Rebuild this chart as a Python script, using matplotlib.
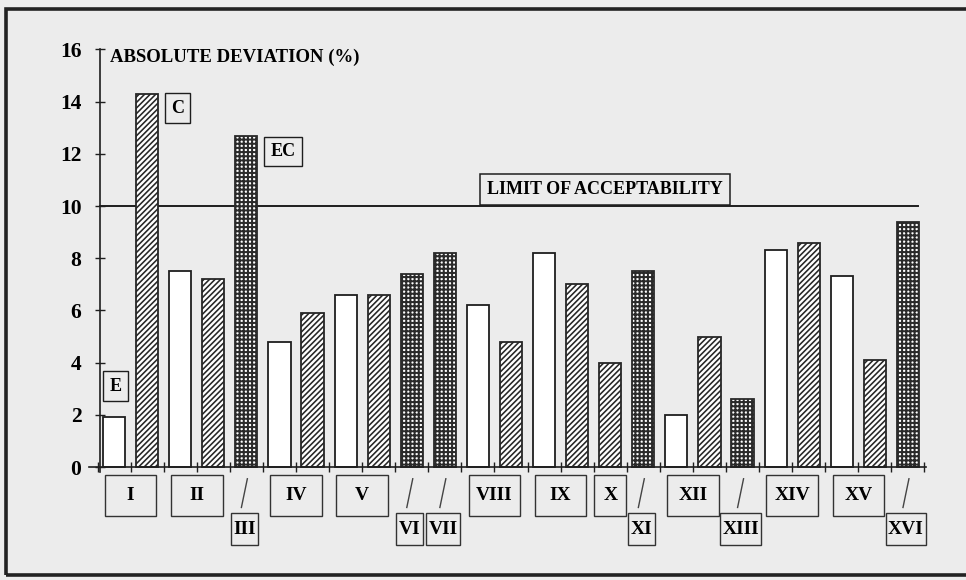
import matplotlib
matplotlib.use("Agg")
import matplotlib.pyplot as plt
from matplotlib.patches import Rectangle

# ---------------- data ----------------
groups = ['I', 'II', 'III', 'IV', 'V', 'VI', 'VII', 'VIII',
          'IX', 'X', 'XI', 'XII', 'XIII', 'XIV', 'XV', 'XVI']
e_values = [1.9, 7.5, None, 4.8, 6.6, None, None, 6.2,
            8.2, None, None, 2.0, None, 8.3, 7.3, None]
c_values = [14.3, 7.2, None, 5.9, 6.6, None, None, 4.8,
            7.0, 4.0, None, 5.0, None, 8.6, 4.1, None]
ec_values = [None, None, 12.7, None, None, 7.4, 8.2, None,
             None, None, 7.5, None, 2.6, None, None, 9.4]
series_names = ['E', 'C', 'EC']
limit_value = 10
y_ticks = [0, 2, 4, 6, 8, 10, 12, 14, 16]
axis_title = 'ABSOLUTE DEVIATION (%)'
limit_label = 'LIMIT OF ACCEPTABILITY'

# ---------------- styling ----------------
BG = '#ececec'
INK = '#1e1e1e'
FONT = 'Liberation Serif'
plt.rcParams['font.family'] = [FONT, 'DejaVu Serif']
plt.rcParams['font.weight'] = 'bold'

styles = {
    'E': dict(facecolor='white', edgecolor=INK, hatch=None, hlw=1.0),
    'C': dict(facecolor='white', edgecolor='#262626', hatch='//////', hlw=1.15),
    'EC': dict(facecolor='white', edgecolor='#2a2a2a', hatch='++++', hlw=1.45),
}

# slot positions
series_vals = {'E': e_values, 'C': c_values, 'EC': ec_values}
bars = {s: ([], []) for s in series_names}
group_slots = []
slot = 0
for gi, g in enumerate(groups):
    slots_here = []
    for s in series_names:
        v = series_vals[s][gi]
        if v is not None:
            bars[s][0].append(slot)
            bars[s][1].append(v)
            slots_here.append((slot, s))
            slot += 1
    group_slots.append(slots_here)
n_slots = slot

fig = plt.figure(figsize=(9.66, 5.80), dpi=100, facecolor=BG)
ax = fig.add_axes([15 / 966, 10 / 580, 935 / 966, 555 / 580])
ax.set_facecolor('none')
ax.set_xlim(-2.994, 25.271)
ax.set_ylim(-3.946, 17.318)

for s in series_names:
    st = styles[s]
    cont = ax.bar(bars[s][0], bars[s][1], width=0.67, facecolor=st['facecolor'],
                  edgecolor=st['edgecolor'], hatch=st['hatch'], linewidth=1.3, zorder=3)
    for p in cont.patches:
        if hasattr(p, 'set_hatch_linewidth'):
            p.set_hatch_linewidth(st['hlw'])

# axes
for sp in ['top', 'right']:
    ax.spines[sp].set_visible(False)
ax.spines['left'].set_position(('data', -0.42))
ax.spines['left'].set_bounds(-0.2, 16)
ax.spines['bottom'].set_position(('data', 0))
ax.spines['bottom'].set_bounds(-0.75, n_slots - 0.45)
for sp in ['left', 'bottom']:
    ax.spines[sp].set_color(INK)
    ax.spines[sp].set_linewidth(1.2)
    ax.spines[sp].set_zorder(4)

ax.set_yticks(y_ticks)
ax.set_yticklabels([str(t) for t in y_ticks], fontsize=15.5, fontweight='bold', family=FONT)
ax.set_xticks([i - 0.5 for i in range(n_slots + 1)])
ax.tick_params(axis='y', direction='inout', length=7, width=1, color=INK, pad=10)
ax.tick_params(axis='x', direction='inout', length=7, width=1, color=INK, labelbottom=False)

# limit line
ax.plot([-0.42, 24.3], [limit_value, limit_value], color=INK, lw=1.4, zorder=2)
ax.text(14.84, 10.62, limit_label, ha='center', va='center', fontsize=13,
        fontweight='bold', zorder=5,
        bbox=dict(boxstyle='square,pad=0.38', fc=BG, ec=INK, lw=1.1))

# axis title
ax.text(-0.12, 15.52, axis_title, ha='left', va='baseline', fontsize=13.5, fontweight='bold')

# series tags
tag_pos = {'E': (0.05, 3.1), 'C': (1.92, 13.75), 'EC': (5.11, 12.09)}
for s in series_names:
    x, y = tag_pos[s]
    ax.text(x, y, s, ha='center', va='center', fontsize=13, fontweight='bold',
            bbox=dict(boxstyle='square,pad=0.35', fc=BG, ec=INK, lw=1.0))

# group labels
fig.canvas.draw()
renderer = fig.canvas.get_renderer()
px_per_slot = ax.transData.transform((1, 0))[0] - ax.transData.transform((0, 0))[0]
for g, slots_here in zip(groups, group_slots):
    xs = [sl for sl, _ in slots_here]
    c = sum(xs) / len(xs)
    lower = len(slots_here) == 1 and slots_here[0][1] == 'EC'
    if lower:
        cx = c - 0.06
        ax.plot([c + 0.03, c - 0.15], [-0.45, -1.55], color='#444', lw=1.0)
        t = ax.text(cx, -2.38, g, ha='center', va='center', fontsize=14, fontweight='bold')
        tw = t.get_window_extent(renderer).width
        w = (tw + 5) / px_per_slot
        ax.add_patch(Rectangle((cx - w / 2, -2.99), w, 1.22, fill=False,
                               ec='#333', lw=1.0, clip_on=False))
    else:
        w = 1.56 if len(slots_here) > 1 else 0.97
        ax.add_patch(Rectangle((c - w / 2, -1.88), w, 1.58, fill=False,
                               ec='#333', lw=1.0, clip_on=False))
        ax.text(c, -1.08, g, ha='center', va='center', fontsize=14, fontweight='bold')

# outer frame
fig.add_artist(Rectangle((6 / 966, 1 - 575 / 580), 990 / 966, 566 / 580,
                         transform=fig.transFigure, fill=False, lw=2.6, ec='#222'))

fig.savefig('out.png', dpi=100, facecolor=BG)
